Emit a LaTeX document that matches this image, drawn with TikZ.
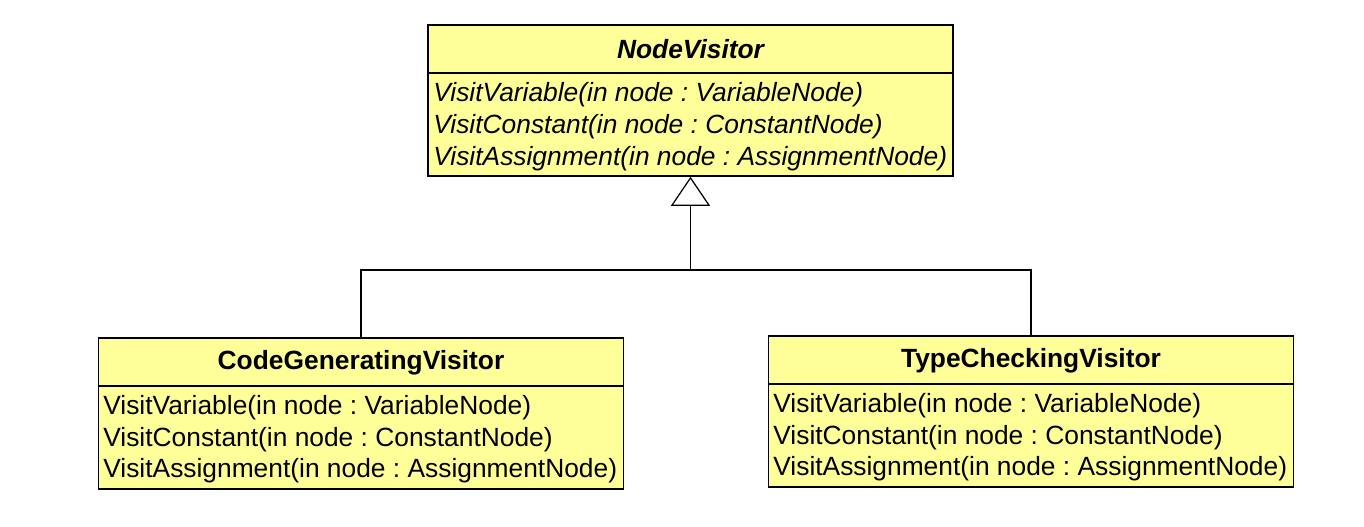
\documentclass[tikz,border=0pt]{standalone}
\usepackage{fontspec}
\setmainfont{Liberation Sans}
\usepackage{xcolor}
\usetikzlibrary{arrows.meta,positioning,calc}
\frenchspacing
\definecolor{umlfill}{RGB}{255,255,153}
\tikzset{
  cls/.style ={rectangle,draw,line width=0.9pt,fill=umlfill,minimum width=10.5cm,minimum height=3.02cm,inner sep=0pt},
  ttl/.style ={font=\fontsize{15}{18}\selectfont\bfseries,inner sep=0pt},
  att/.style ={font=\fontsize{15}{18}\selectfont,anchor=west,inner sep=0pt},
  absatt/.style={att,font=\fontsize{15}{18}\selectfont\itshape},
  inh/.style ={-{Triangle[open,length=5.8mm,width=7.8mm]},line width=0.7pt},
  lnk/.style ={line width=0.7pt},
}

\begin{document}
\begin{tikzpicture}
  \useasboundingbox (0,0) rectangle (27.28,-10.54);
  % abstract visitor
  \node[cls] (nv) at (13.81,-2.01){};
  \draw[line width=0.9pt] (8.56,-1.46) -- (19.06,-1.46);
  \node[ttl,font=\fontsize{15}{18}\selectfont\bfseries\itshape] (nvt) at (13.81,-0.98){NodeVisitor};
  \node[absatt] (nv1) at (8.66,-1.89){VisitVariable(in node : VariableNode)};
  \node[absatt] (nv2) at (8.66,-2.53){VisitConstant(in node : ConstantNode)};
  \node[absatt] (nv3) at (8.66,-3.17){VisitAssignment(in node : AssignmentNode)};
  % concrete visitors
  \node[cls] (cg) at (7.22,-8.27){};
  \draw[line width=0.9pt] (1.96,-7.72) -- (12.48,-7.72);
  \node[ttl] (cgt) at (7.22,-7.26){CodeGeneratingVisitor};
  \node[att] (cg1) at (2.06,-8.15){VisitVariable(in node : VariableNode)};
  \node[att] (cg2) at (2.06,-8.79){VisitConstant(in node : ConstantNode)};
  \node[att] (cg3) at (2.06,-9.41){VisitAssignment(in node : AssignmentNode)};
  \node[cls] (tc) at (20.62,-8.23){};
  \draw[line width=0.9pt] (15.36,-7.68) -- (25.88,-7.68);
  \node[ttl] (tct) at (20.62,-7.22){TypeCheckingVisitor};
  \node[att] (tc1) at (15.46,-8.11){VisitVariable(in node : VariableNode)};
  \node[att] (tc2) at (15.46,-8.75){VisitConstant(in node : ConstantNode)};
  \node[att] (tc3) at (15.46,-9.37){VisitAssignment(in node : AssignmentNode)};
  % generalisation
  \coordinate (j) at (13.81,-5.40);
  \draw[lnk] (cg.north) |- (j) -| (tc.north);
  \draw[inh] (j) -- (nv.south);
\end{tikzpicture}
\end{document}
